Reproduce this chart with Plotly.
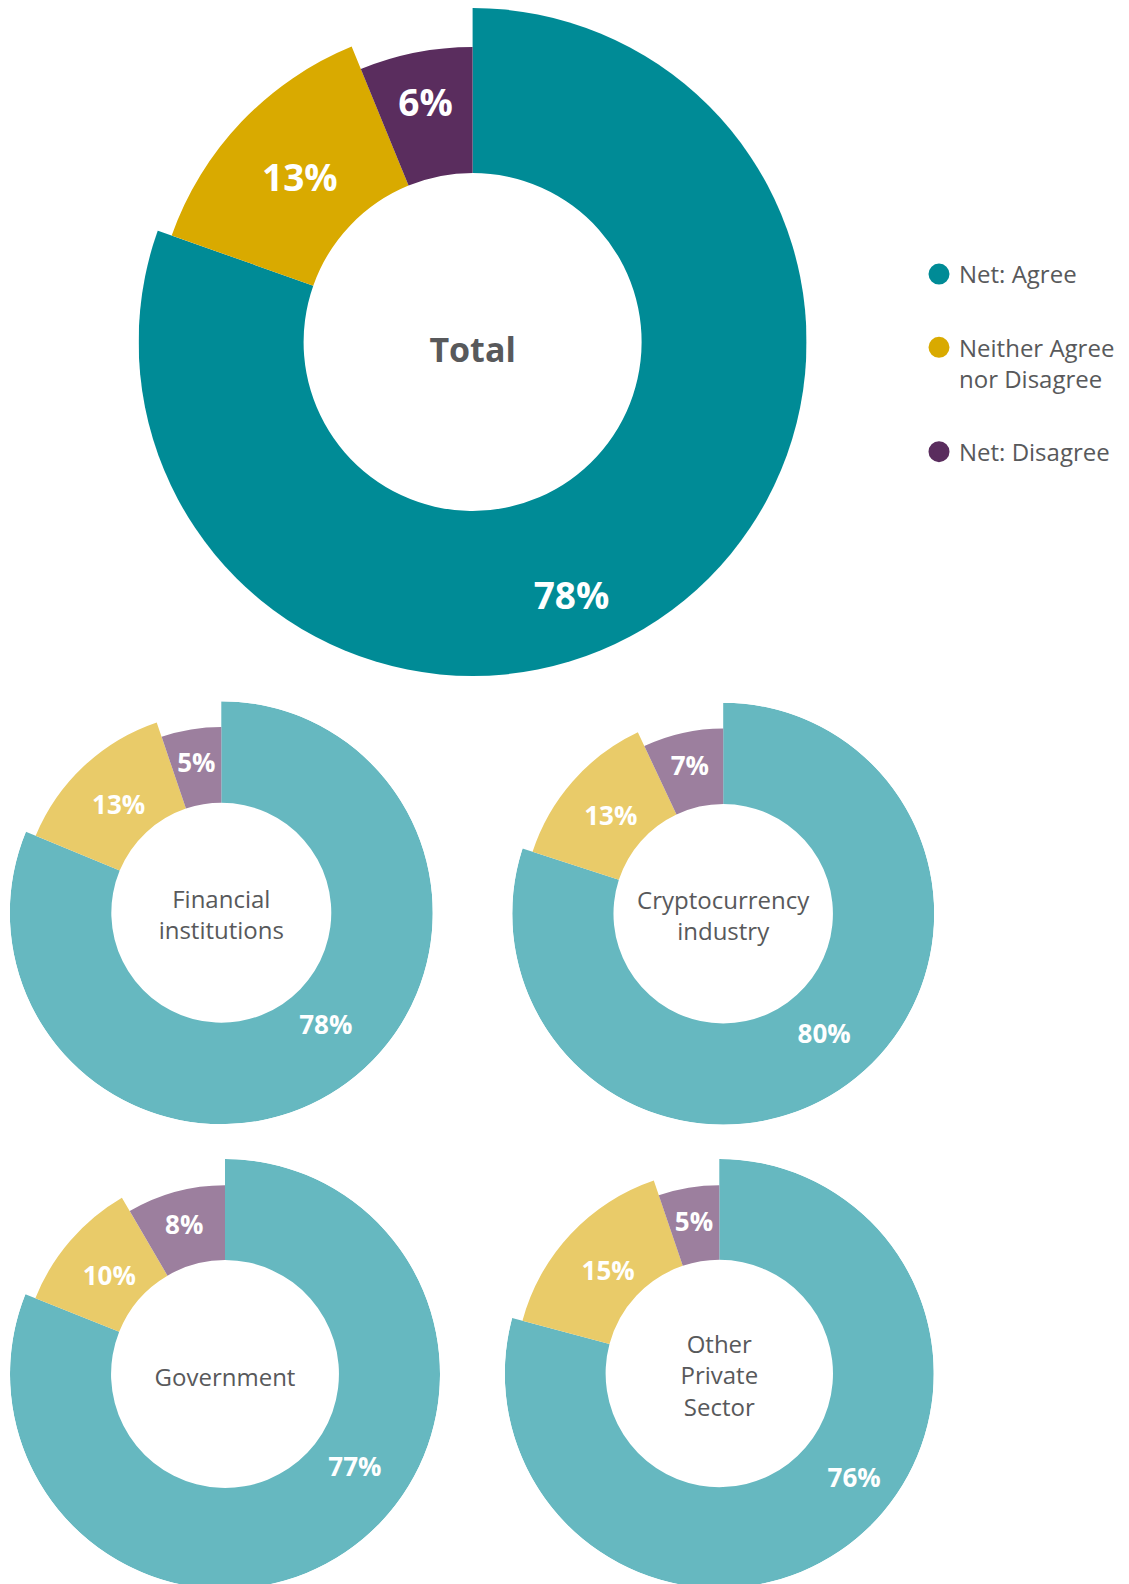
import math
import plotly.graph_objects as go

categories = ["Net: Agree", "Neither Agree<br>nor Disagree", "Net: Disagree"]
groups = ["<b>Total</b>", "Financial<br>institutions", "Cryptocurrency<br>industry",
          "Government", "Other<br>Private<br>Sector"]
total = [78, 13, 6]
financial = [78, 13, 5]
crypto = [80, 13, 7]
government = [77, 10, 8]
other_private = [76, 15, 5]

W, H = 1129, 1584
OFF = 8  # the page body adds an 8px margin
FONT = "Open Sans"
GREY = "#58595b"
dark = ["#008b96", "#d9aa00", "#5a2d5e"]
light = ["#66b8c0", "#e9cb69", "#9c7f9e"]
outer = [1.0, 0.95, 0.878]  # outer radius of each slice, relative to the agree slice

# values, colours, centre x/y (px), radius (px), hole, agree label angle/radius,
# label size, centre size, centre label drop (px)
charts = [
    (total, dark, 472.6, 342, 336, 0.503, 158.7, 0.81, 37, 34, 11),
    (financial, light, 221.3, 912.7, 211.5, 0.52, 136.7, 0.72, 26, 24, 5),
    (crypto, light, 723.2, 913.7, 211, 0.52, 139.7, 0.74, 26, 24, 5),
    (government, light, 225, 1374, 215, 0.53, 125.3, 0.74, 26, 24, 6),
    (other_private, light, 719.3, 1373.5, 214.5, 0.53, 127.3, 0.79, 26, 24, 5),
]


def nudge(r, theta, down):
    # move a polar point straight down by `down` (in radius units)
    x = r * math.sin(math.radians(theta))
    y = r * math.cos(math.radians(theta)) - down
    return math.hypot(x, y), math.degrees(math.atan2(x, y)) % 360


fig = go.Figure()
polars = {}
for i, (vals, cols, cx, cy, R, hole, a_ang, a_r, fs, cfs, drop) in enumerate(charts):
    cx, cy = cx - OFF, cy - OFF
    sub = "polar" if i == 0 else f"polar{i + 1}"
    s = sum(vals)
    spans = [v / s * 360 for v in vals]
    starts = [sum(spans[:k]) for k in range(len(spans))]
    mids = [a + b / 2 for a, b in zip(starts, spans)]

    fig.add_trace(go.Barpolar(
        r=[o - hole for o in outer], base=hole, theta=mids, width=spans,
        marker=dict(color=cols, line_width=0), subplot=sub,
        showlegend=False, hoverinfo="skip"))

    pts = [nudge(r, t, 4 / R) for r, t in
           zip([a_r, 0.71, 0.725], [a_ang, mids[1], mids[2]])]
    fig.add_trace(go.Scatterpolar(
        r=[p[0] for p in pts], theta=[p[1] for p in pts], mode="text",
        text=[f"{v}%" for v in vals],
        textfont=dict(color="white", size=fs, family=FONT, weight=700),
        cliponaxis=False, subplot=sub, showlegend=False, hoverinfo="skip"))

    fig.add_trace(go.Scatterpolar(
        r=[drop / R], theta=[180], mode="text", text=[groups[i]],
        textfont=dict(color=GREY, size=cfs, family=FONT),
        cliponaxis=False, subplot=sub, showlegend=False, hoverinfo="skip"))

    h = min(R, cx, W - cx, cy, H - cy)
    polars[sub] = dict(
        domain=dict(x=[(cx - h) / W, (cx + h) / W], y=[1 - (cy + h) / H, 1 - (cy - h) / H]),
        radialaxis=dict(range=[0, h / R], visible=False),
        angularaxis=dict(rotation=90, direction="clockwise", visible=False),
        bgcolor="rgba(0,0,0,0)", barmode="overlay")

# legend entries
for name, c in zip(categories, dark):
    fig.add_trace(go.Scatterpolar(
        r=[None], theta=[None], mode="markers", name=name, legendgroup=name,
        marker=dict(color=c, size=22, line=dict(color=c, width=6)), subplot="polar"))

fig.update_layout(
    width=W, height=H, margin=dict(l=0, r=0, t=0, b=0),
    paper_bgcolor="white", plot_bgcolor="white",
    font=dict(family=FONT, color=GREY),
    legend=dict(x=(919 - OFF) / W, y=1 - (252 - OFF) / H, xanchor="left", yanchor="top",
                font=dict(size=24, color=GREY, family=FONT),
                tracegroupgap=39, valign="top", bgcolor="rgba(0,0,0,0)"),
    **polars)

fig.write_html("out.html")
